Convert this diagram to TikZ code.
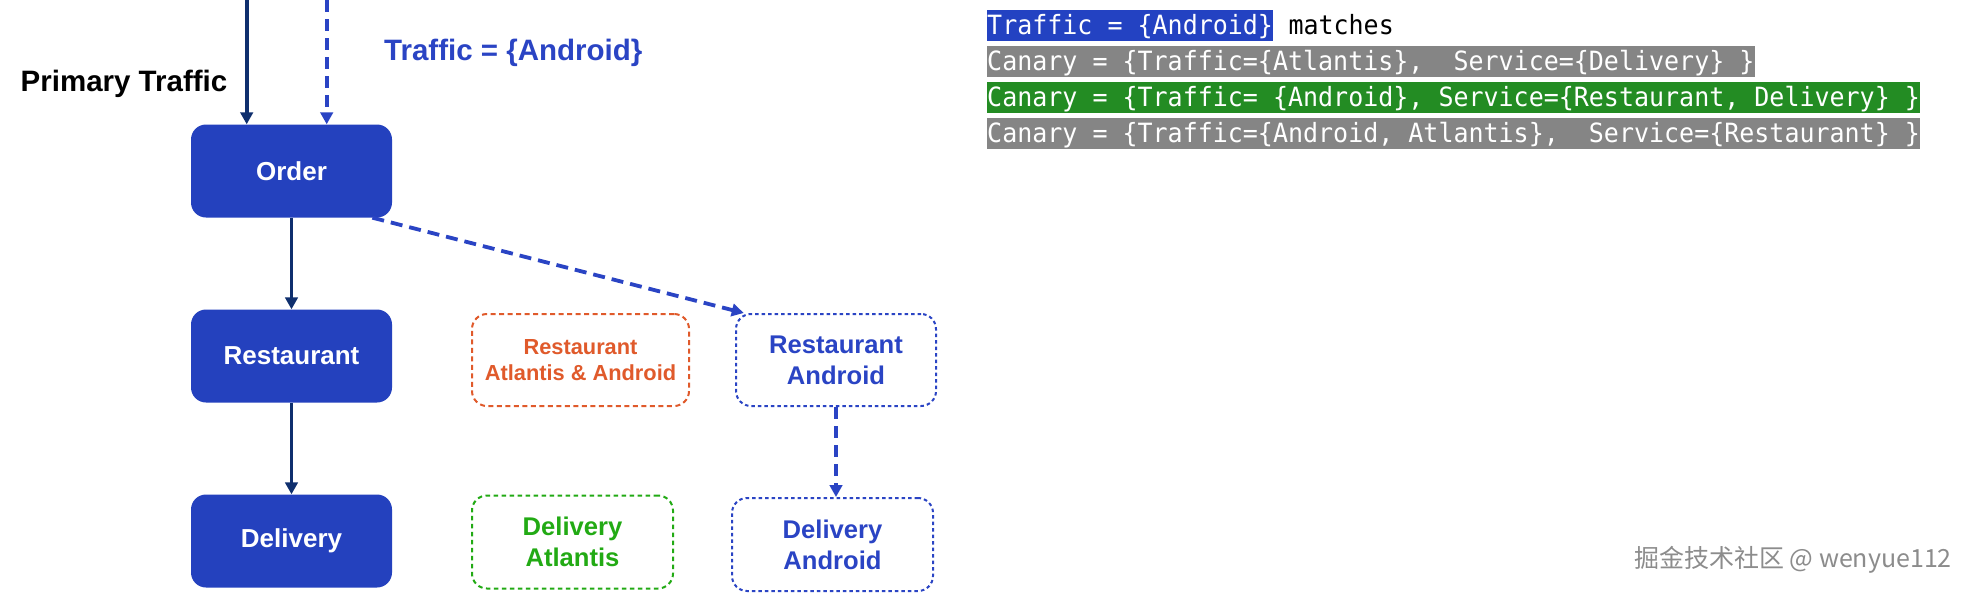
\documentclass[tikz,border=0pt]{standalone}
\usepackage{fontspec}
\setmainfont{Liberation Sans}
\newfontfamily\codefont[FakeStretch=0.943]{DejaVu Sans Mono}
\newfontfamily\cjk{Noto Sans CJK SC}
\usetikzlibrary{arrows.meta,calc}
\definecolor{boxblue}{HTML}{2441BE}
\definecolor{navy}{HTML}{0F2F6E}
\definecolor{dblue}{HTML}{2A44C4}
\definecolor{orng}{HTML}{E05A2B}
\definecolor{grn}{HTML}{22AA14}
\definecolor{codeblue}{HTML}{2342C2}
\definecolor{codegreen}{HTML}{238C23}
\definecolor{codegray}{HTML}{858585}
\definecolor{wmgray}{HTML}{8C8C8C}
\begin{document}
\begin{tikzpicture}[x=1pt,y=-1pt,
  solidbox/.style={fill=boxblue, rounded corners=15pt, minimum width=201pt, minimum height=93pt,
    text=white, font=\bfseries\fontsize{26}{31}\selectfont, inner sep=0pt, align=center},
  ghostbox/.style={rounded corners=15pt, minimum width=201pt, minimum height=93pt, line width=2pt,
    font=\bfseries\fontsize{25.6}{31}\selectfont, inner sep=0pt, align=center},
  bluedot/.style={ghostbox, draw=dblue, text=dblue, dash pattern=on 3.5pt off 3pt},
  orangedash/.style={ghostbox, draw=orng, text=orng, dash pattern=on 5pt off 3.5pt,
    font=\bfseries\fontsize{21.8}{26.7}\selectfont},
  greendash/.style={ghostbox, draw=grn, text=grn, dash pattern=on 4.5pt off 3.5pt},
  solidarrow/.style={draw=navy, line width=3.8pt, -{Triangle[length=12pt,width=12.5pt]}},
  dasharrow/.style={draw=dblue, line width=3.8pt, dash pattern=on 12pt off 7pt,
    -{Triangle[length=12pt,width=12.5pt]}},
  codeline/.style={inner xsep=0pt, inner ysep=0pt, text height=24.3pt, text depth=6.2pt,
    text=white, anchor=north west, font=\codefont\fontsize{26.5}{30}\selectfont},
  toplabel/.style={inner sep=0pt, anchor=base west, font=\bfseries\fontsize{29.5}{35}\selectfont}
]
\useasboundingbox (0,0) rectangle (1972,595);
\fill[white] (0,0) rectangle (1972,595);

% top labels
\node[toplabel, text=black] (ptl) at (20.5,91.7) {Primary Traffic};
\node[toplabel, text=dblue] (tal) at (384,60) {Traffic = \{Android\}};

% main chain
\node[solidbox] (order) at (291.5,171) {Order};
\node[solidbox] (rest) at (291.5,356) {Restaurant};
\node[solidbox] (deliv) at (291.5,541) {Delivery};

% canary boxes
\node[orangedash, minimum width=217pt, minimum height=92pt] (rat) at (580.5,360) {Restaurant\\Atlantis \& Android};
\node[bluedot, minimum width=200pt, minimum height=92pt] (ra) at (836,360) {Restaurant\\Android};
\node[greendash] (dat) at (572.5,542) {Delivery\\Atlantis};
\node[bluedot] (da) at (832.5,544.5) {Delivery\\Android};

% incoming arrows
\coordinate (p0) at (246.7,0);
\coordinate (d0) at (326.7,0);
\draw[solidarrow] (p0) -- (p0 |- order.north);
\draw[dasharrow] (d0) -- (d0 |- order.north);

% chain arrows
\draw[solidarrow] (order.south) -- (rest.north);
\draw[solidarrow] (rest.south) -- (deliv.north);
\draw[dasharrow] (order.-30.7) -- (ra.153);
\draw[dasharrow] (ra.south) -- (ra.south |- da.north);

% code lines
\node[codeline, fill=codeblue] (c1) at (987,10) {Traffic = \{Android\}};
\node[inner sep=0pt, anchor=base west, font=\codefont\fontsize{26.5}{30}\selectfont] (m1)
  at ($(c1.base east)+(15.05,0)$) {matches};
\node[codeline, fill=codegray] (c2) at (987,46) {Canary = \{Traffic=\{Atlantis\},~ Service=\{Delivery\} \}};
\node[codeline, fill=codegreen] (c3) at (987,82) {Canary = \{Traffic= \{Android\}, Service=\{Restaurant, Delivery\} \}};
\node[codeline, fill=codegray] (c4) at (987,118) {Canary = \{Traffic=\{Android, Atlantis\},~ Service=\{Restaurant\} \}};

% watermark
\node[inner sep=0pt, anchor=east, text=wmgray, font=\cjk\fontsize{25}{30}\selectfont] (wm)
  at (1952,560) {掘金技术社区 @ wenyue112};
\end{tikzpicture}
\end{document}
